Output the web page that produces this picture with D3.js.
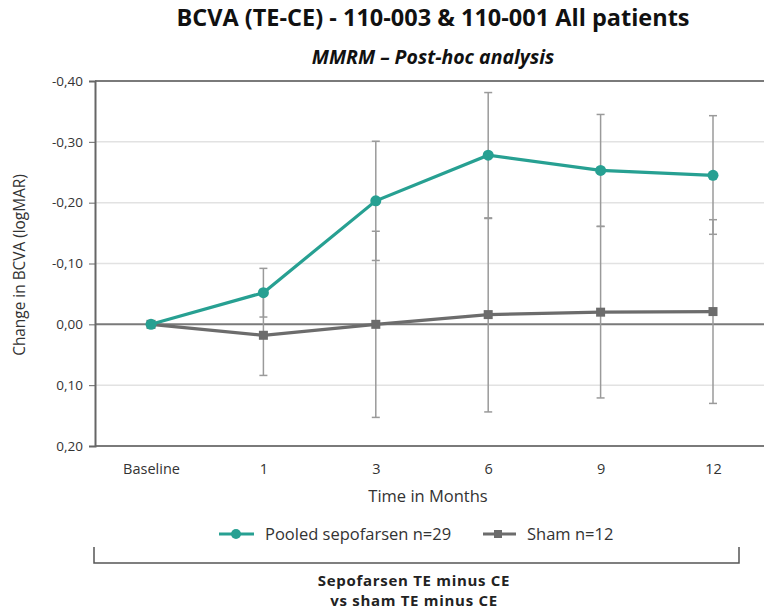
<!DOCTYPE html>
<html><head><meta charset="utf-8">
<script src="https://cdn.jsdelivr.net/npm/d3@7"></script>
<style>body{margin:0;background:#fff}svg{display:block}text{font-family:"Open Sans",sans-serif}</style>
</head><body><svg id="c" width="764" height="614"></svg>
<script>
const categories = ["Baseline","1","3","6","9","12"];
const pooledMean = [0, -0.052, -0.203, -0.278, -0.253, -0.245];
const pooledLow  = [null, -0.092, -0.301, -0.381, -0.345, -0.343];
const pooledHigh = [null, -0.012, -0.105, -0.175, -0.161, -0.148];
const shamMean = [0, 0.018, 0.0, -0.016, -0.020, -0.021];
const shamLow  = [null, -0.048, -0.153, -0.174, -0.161, -0.172];
const shamHigh = [null, 0.084, 0.153, 0.144, 0.121, 0.130];
const yTicks = [-0.4,-0.3,-0.2,-0.1,0,0.1,0.2];
const yTickLabels = ["-0,40","-0,30","-0,20","-0,10","0,00","0,10","0,20"];
const legendLabels = ["Pooled sepofarsen n=29","Sham n=12"];

const teal = "#27a092", gray = "#6c6c6c", barCol = "#9a9a9a";
const svg = d3.select("#c");
const x = d3.scalePoint().domain(categories).range([151, 713]);
const y = d3.scaleLinear().domain([-0.4, 0.2]).range([81, 446]);

// titles
svg.append("text").attr("x",433).attr("y",26).attr("text-anchor","middle")
  .attr("font-size",23.5).attr("font-weight","bold").attr("fill","#111")
  .text("BCVA (TE-CE) - 110-003 & 110-001 All patients");
svg.append("text").attr("x",433).attr("y",64).attr("text-anchor","middle")
  .attr("font-size",19.5).attr("font-weight","bold").attr("font-style","italic").attr("fill","#111")
  .text("MMRM \u2013 Post-hoc analysis");

// grid lines
const gx0 = 95, gx1 = 764;
yTicks.forEach((t,i)=>{
  const edge = (i===0 || i===yTicks.length-1);
  const zero = t===0;
  svg.append("line").attr("x1",gx0).attr("x2",gx1).attr("y1",y(t)).attr("y2",y(t))
    .attr("stroke", edge||zero ? "#7a7a7a" : "#e2e2e2")
    .attr("stroke-width", edge||zero ? 2 : 1.5);
});

// y axis
const yAxis = d3.axisLeft(y).tickValues(yTicks).tickSize(6).tickPadding(6)
  .tickFormat((d,i)=>yTickLabels[i]);
const ya = svg.append("g").attr("transform",`translate(${gx0},0)`).call(yAxis);
ya.select(".domain").attr("stroke","#666").attr("stroke-width",2);
ya.selectAll(".tick line").attr("stroke","#666").attr("stroke-width",1);
ya.selectAll(".tick text").attr("font-size",13.5).attr("fill","#333").attr("font-family","Open Sans");

svg.append("text").attr("transform","translate(25,265) rotate(-90)").attr("text-anchor","middle")
  .attr("font-size",15.4).attr("fill","#333").text("Change in BCVA (logMAR)");

// x axis labels
const xAxis = d3.axisBottom(x).tickSize(0).tickPadding(0);
const xa = svg.append("g").attr("transform",`translate(0,460)`).call(xAxis);
xa.select(".domain").remove();
xa.selectAll(".tick text").attr("font-size",14.5).attr("fill","#333").attr("font-family","Open Sans")
  .attr("y",14).attr("dy",0);
svg.append("text").attr("x",428).attr("y",502).attr("text-anchor","middle")
  .attr("font-size",16.5).attr("fill","#333").text("Time in Months");

// error bars
function bars(lo, hi){
  categories.forEach((c,i)=>{
    if(lo[i]===null) return;
    const cx = x(c);
    const g = svg.append("g").attr("stroke",barCol).attr("stroke-width",1.5);
    g.append("line").attr("x1",cx).attr("x2",cx).attr("y1",y(lo[i])).attr("y2",y(hi[i]));
    [lo[i],hi[i]].forEach(v=>g.append("line").attr("x1",cx-4).attr("x2",cx+4).attr("y1",y(v)).attr("y2",y(v)));
  });
}
bars(shamLow, shamHigh);
bars(pooledLow, pooledHigh);

const line = d3.line().x((d,i)=>x(categories[i])).y(d=>y(d));
svg.append("path").datum(shamMean).attr("d",line).attr("fill","none").attr("stroke",gray).attr("stroke-width",3.2);
svg.selectAll(".sq").data(shamMean).enter().append("rect")
  .attr("x",(d,i)=>x(categories[i])-4.5).attr("y",d=>y(d)-4.5).attr("width",9).attr("height",9).attr("fill",gray);
svg.append("path").datum(pooledMean).attr("d",line).attr("fill","none").attr("stroke",teal).attr("stroke-width",3.2);
svg.selectAll(".ci").data(pooledMean).enter().append("circle")
  .attr("cx",(d,i)=>x(categories[i])).attr("cy",d=>y(d)).attr("r",5.5).attr("fill",teal);

// legend
const lg = svg.append("g");
lg.append("line").attr("x1",219).attr("x2",254).attr("y1",534).attr("y2",534).attr("stroke",teal).attr("stroke-width",3.2);
lg.append("circle").attr("cx",236).attr("cy",534).attr("r",5).attr("fill",teal);
lg.append("text").attr("x",265).attr("y",540).attr("font-size",16.5).attr("fill","#333").text(legendLabels[0]);
lg.append("line").attr("x1",483).attr("x2",516).attr("y1",534).attr("y2",534).attr("stroke",gray).attr("stroke-width",3.2);
lg.append("rect").attr("x",494).attr("y",530).attr("width",8).attr("height",8).attr("fill",gray);
lg.append("text").attr("x",527).attr("y",540).attr("font-size",16.5).attr("fill","#333").text(legendLabels[1]);

// bracket
svg.append("path").attr("d","M94,547 V563 H739 V547").attr("fill","none").attr("stroke","#555").attr("stroke-width",1.5);
svg.append("text").attr("x",414).attr("y",586).attr("text-anchor","middle").attr("font-size",15).attr("letter-spacing",0.7).attr("font-weight","bold").attr("fill","#222").text("Sepofarsen TE minus CE");
svg.append("text").attr("x",414).attr("y",606).attr("text-anchor","middle").attr("font-size",15).attr("letter-spacing",0.7).attr("font-weight","bold").attr("fill","#222").text("vs sham TE minus CE");
</script></body></html>
